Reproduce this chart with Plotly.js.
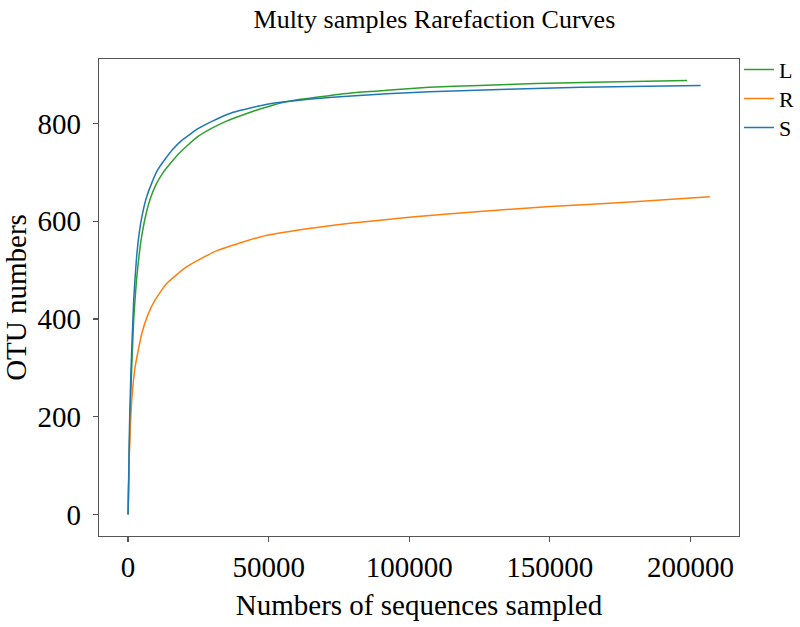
<!DOCTYPE html>
<html>
<head>
<meta charset="utf-8">
<script src="https://cdn.plot.ly/plotly-3.0.1.min.js"></script>
<style>html,body{margin:0;padding:0;background:#fff;}#chart{width:800px;height:627px;}</style>
</head>
<body>
<div id="chart"></div>
<script>
// Sample names
const sampleNames = ["L", "R", "S"];
const sampleColors = ["#2ca02c", "#ff7f0e", "#1f77b4"];

// L (sequences sampled, OTU numbers)
const seqL = [0, 500, 1000, 2000, 3000, 4000, 5000, 6500, 8000, 10000, 12500, 15000, 18000, 21500, 25000, 30000, 35000, 40000, 45000, 50000, 55000, 62000, 70000, 80000, 92000, 107000, 125000, 145000, 170000, 198800];
const otuL = [0, 150, 255, 400, 480, 535, 575, 618, 648, 676, 700, 718, 738, 757, 774, 791, 805, 816, 826, 835, 843, 850, 856, 863, 868, 874, 878, 882, 885, 888];

// R
const seqR = [0, 300, 700, 1300, 2500, 4900, 7000, 9600, 13800, 20900, 31600, 47000, 63000, 79000, 100000, 125000, 150000, 180000, 206900];
const otuR = [0, 100, 166, 234, 302, 371, 408, 439, 473, 507, 540, 568, 584, 596, 608, 620, 630, 640, 650];

// S
const seqS = [0, 500, 1000, 2000, 3000, 4000, 5000, 6500, 8400, 10500, 13000, 16000, 19000, 22000, 25000, 30000, 35000, 40000, 45000, 50000, 55000, 65000, 78000, 92000, 107000, 135000, 161000, 185000, 203600];
const otuS = [0, 180, 290, 440, 525, 578, 612, 648, 678, 705, 726, 748, 765, 778, 790, 805, 818, 827, 834, 840, 844, 850, 856, 861, 865, 870, 874, 876, 878];

// Axis ticks
const xTicks = [0, 50000, 100000, 150000, 200000];
const yTicks = [0, 200, 400, 600, 800];

const seqs = [seqL, seqR, seqS];
const otus = [otuL, otuR, otuS];
const legendIds = ["legend", "legend2", "legend3"];

const traces = [0, 1, 2].map(i => ({
  type: "scatter",
  mode: "lines",
  name: sampleNames[i],
  x: seqs[i],
  y: otus[i],
  line: {color: sampleColors[i], width: 1.5, shape: "spline", smoothing: 0.5},
  legend: legendIds[i]
}));

const font = "Liberation Serif, Times New Roman, serif";
const axisCommon = {
  showgrid: false,
  zeroline: false,
  showline: true,
  mirror: true,
  linecolor: "#555555",
  linewidth: 1.3,
  ticks: "outside",
  ticklen: 5,
  tickwidth: 1.2,
  tickcolor: "#555555",
  tickfont: {family: font, size: 29, color: "#000"}
};

function legendAt(yFrac) {
  return {
    x: 1.0, xanchor: "left", y: yFrac, yanchor: "middle",
    font: {family: font, size: 22, color: "#000"},
    bgcolor: "rgba(0,0,0,0)",
    borderwidth: 0,
    itemwidth: 30
  };
}

const layout = {
  width: 800,
  height: 627,
  paper_bgcolor: "#fff",
  plot_bgcolor: "#fff",
  margin: {l: 99, r: 61, t: 59, b: 91, autoexpand: false},
  title: {text: "Multy samples Rarefaction Curves", font: {family: font, size: 26, color: "#000"}, x: 0.543, xanchor: "center", y: 0.985, yanchor: "top"},
  xaxis: Object.assign({}, axisCommon, {
    range: [-10345, 217260],
    tickvals: xTicks,
    ticktext: xTicks.map(String),
    title: {text: "Numbers of sequences sampled", font: {family: font, size: 29, color: "#000"}, standoff: 12}
  }),
  yaxis: Object.assign({}, axisCommon, {
    range: [-43.9, 932],
    tickvals: yTicks,
    ticktext: yTicks.map(String),
    ticklabelstandoff: 6,
    title: {text: "OTU numbers", font: {family: font, size: 29, color: "#000"}, standoff: 6}
  }),
  showlegend: true,
  legend: legendAt(0.9775),
  legend2: legendAt(0.9167),
  legend3: legendAt(0.8559)
};

Plotly.newPlot("chart", traces, layout, {displayModeBar: false, staticPlot: true});
</script>
</body>
</html>
